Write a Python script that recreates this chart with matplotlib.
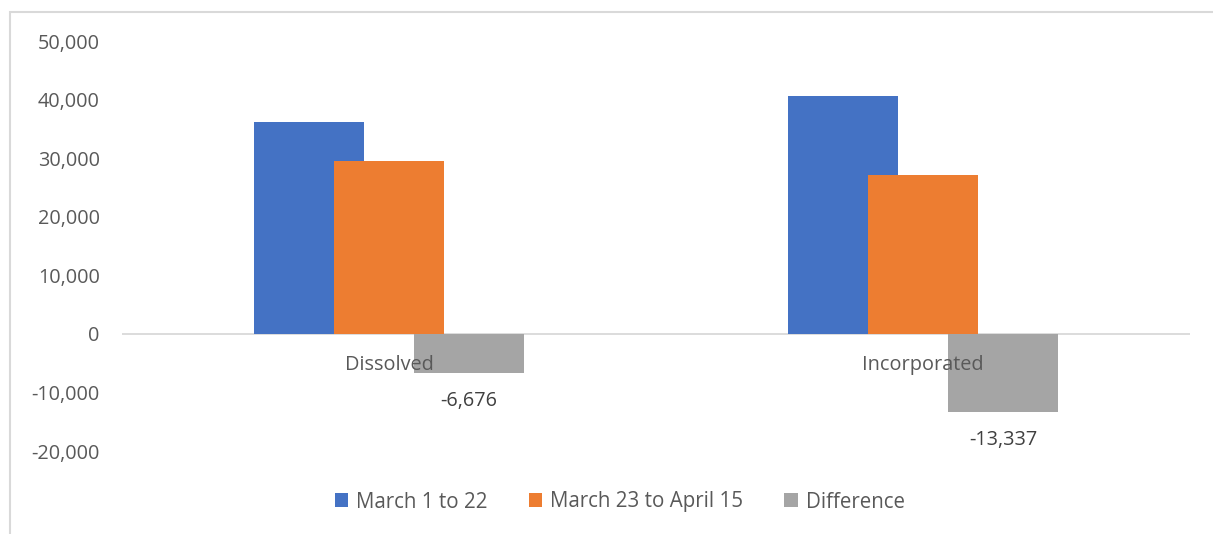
import matplotlib.pyplot as plt
from matplotlib.patches import Rectangle
from matplotlib.ticker import FuncFormatter

# data
categories = ['Dissolved', 'Incorporated']
march_1_22 = [36150, 40530]
march_23_apr_15 = [29474, 27193]
difference = [-6676, -13337]
series_names = ['March 1 to 22', 'March 23 to April 15', 'Difference']
colors = ['#4472C4', '#ED7D31', '#A5A5A5']

plt.rcParams['font.family'] = ['Open Sans', 'DejaVu Sans']
txt = '#595959'
fs = 14.3

fig = plt.figure(figsize=(12.13, 5.34), dpi=100)
ax = fig.add_axes([122/1213, 1-451/534, (1190-122)/1213, (451-41)/534])

w = 0.206
offs = [-0.15, 0, 0.15]
xs = range(len(categories))
allvals = [march_1_22, march_23_apr_15, difference]
for i, vals in enumerate(allvals):
    ax.bar([x + offs[i] for x in xs], vals, width=w, color=colors[i],
           label=series_names[i], zorder=2)

# data labels on difference only
for x, v in zip(xs, difference):
    ax.annotate(f'{v:,}', (x + offs[2], v), xytext=(0, -28), textcoords='offset pixels',
                ha='center', va='center', fontsize=fs, color='#404040')

# category labels just under zero line, drawn over the bars
for x, c in zip(xs, categories):
    ax.annotate(c, (x, 0), xytext=(0, -31), textcoords='offset pixels',
                ha='center', va='center', fontsize=fs, color=txt, zorder=5)

ax.axhline(0, color='#d9d9d9', lw=1.3, zorder=1)
ax.set_xlim(-0.5, 1.5)
ax.set_ylim(-20000, 50000)
ax.set_yticks(range(-20000, 50001, 10000))
ax.yaxis.set_major_formatter(FuncFormatter(lambda v, p: f'{int(v):,}'))
ax.tick_params(axis='y', length=0, pad=16, labelsize=fs, labelcolor=txt)
ax.set_xticks([])
for s in ax.spines.values():
    s.set_visible(False)

fig.legend(loc='center', bbox_to_anchor=(0.511, 1-502/534), ncol=3, frameon=False,
           fontsize=fs + 0.5, labelcolor=txt, handlelength=0.65, handleheight=0.65,
           handletextpad=0.4, columnspacing=2.0)

# chart frame
fig.patches.append(Rectangle((10/1213, -0.1), 1.2, 1-12/534+0.1, transform=fig.transFigure,
                             fill=False, edgecolor='#d9d9d9', lw=1.5))

fig.savefig('out.png', dpi=100)
